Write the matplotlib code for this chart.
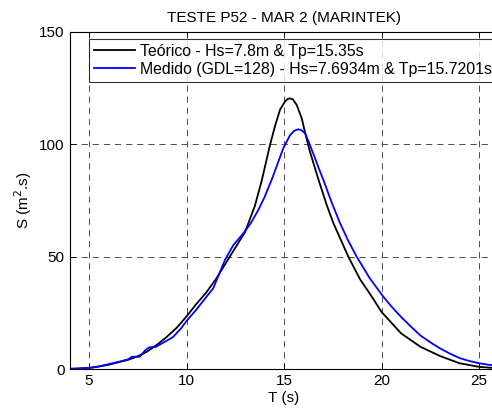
import matplotlib
matplotlib.use("Agg")
import matplotlib.pyplot as plt

plt.rcParams['font.family'] = ['Liberation Sans', 'DejaVu Sans']
plt.rcParams['font.size'] = 11
plt.rcParams['lines.scale_dashes'] = False

# teorico (JONSWAP)
t_teo = [4, 5, 6, 7, 7.5, 8, 8.5, 9, 9.5, 10, 10.5, 11, 11.5, 12, 12.5, 13, 13.5,
         13.86, 14.28, 14.55, 14.8, 15.05, 15.2, 15.31, 15.45, 15.65, 15.91,
         16.1, 16.33, 16.76, 17.19, 17.53, 18.3, 18.9, 19.5, 20, 21, 22, 23, 24,
         25, 26]
s_teo = [0.1, 0.6, 2.0, 4.2, 5.8, 8.0, 11.0, 14.5, 18.5, 23.5, 29, 34, 40, 47,
         54, 61, 72.5, 84, 99.7, 108.5, 115.5, 119, 120.2, 120.4, 120, 117.5,
         111.5, 104.5, 96.7, 84.5, 73, 65, 50, 40, 32.3, 25.5, 16, 10, 5.9, 2.7,
         1.1, 0.4]

# medido (GDL=128)
t_med = [4, 4.5, 5, 5.5, 6, 6.5, 7, 7.2, 7.6, 7.9, 8.1, 8.4, 8.8, 9.3, 9.7, 10,
         10.5, 11, 11.37, 11.97, 12.4, 12.91, 13.3, 13.68, 14.0, 14.4, 14.96,
         15.31, 15.52, 15.73, 15.9, 16.08, 16.33, 16.85, 17.02, 17.45, 17.87,
         18.3, 18.73, 19.4, 20.09, 20.5, 21, 21.5, 22, 22.5, 23, 23.5, 24, 24.5,
         25, 25.5, 26]
s_med = [0.3, 0.4, 0.6, 1.2, 2.3, 3.3, 4.4, 5.6, 5.6, 8.6, 9.8, 9.9, 11.8, 14.3,
         18, 21.5, 26.5, 32, 36, 48.6, 55.2, 60.4, 65, 70.8, 76.5, 85, 98.2,
         104.1, 106, 106.7, 106.2, 104.9, 99.7, 87.8, 84.1, 74, 65, 57, 50, 40.4,
         32.3, 28, 23.3, 19, 15, 12, 9.3, 7, 5, 3.7, 2.7, 2, 1.5]

fig = plt.figure(figsize=(4.92, 4.12), dpi=100)
ax = fig.add_axes([0.1413, 0.1036, 0.872, 0.8192])

ax.plot(t_teo, s_teo, color='black', lw=1.3,
        label='Teórico - Hs=7.8m & Tp=15.35s')
ax.plot(t_med, s_med, color='blue', lw=1.3,
        label='Medido (GDL=128) - Hs=7.6934m & Tp=15.7201s')

ax.set_xlim(4, 26)
ax.set_ylim(0, 150)
ax.set_xticks([5, 10, 15, 20, 25])
ax.set_yticks([0, 50, 100, 150])
ax.tick_params(direction='in', top=True, right=True, length=4, width=0.6)
ax.grid(True, color='0.3', lw=0.7, linestyle=(0, (4.5, 3.5)))
for sp in ax.spines.values():
    sp.set_linewidth(0.8)

ax.set_title('TESTE P52 - MAR 2 (MARINTEK)', fontsize=11, pad=7)
ax.set_xlabel('T (s)', labelpad=2)
ax.set_ylabel('S (m$^2$.s)', labelpad=4)

leg = ax.legend(loc='upper left', bbox_to_anchor=(0.0455, 0.9787),
                frameon=True, fancybox=False, edgecolor='black',
                borderaxespad=0, handlelength=2.6, handletextpad=0.3,
                labelspacing=0.2, borderpad=0.3, fontsize=11.4)
leg.get_frame().set_linewidth(0.8)

fig.savefig('out.png', dpi=100)
